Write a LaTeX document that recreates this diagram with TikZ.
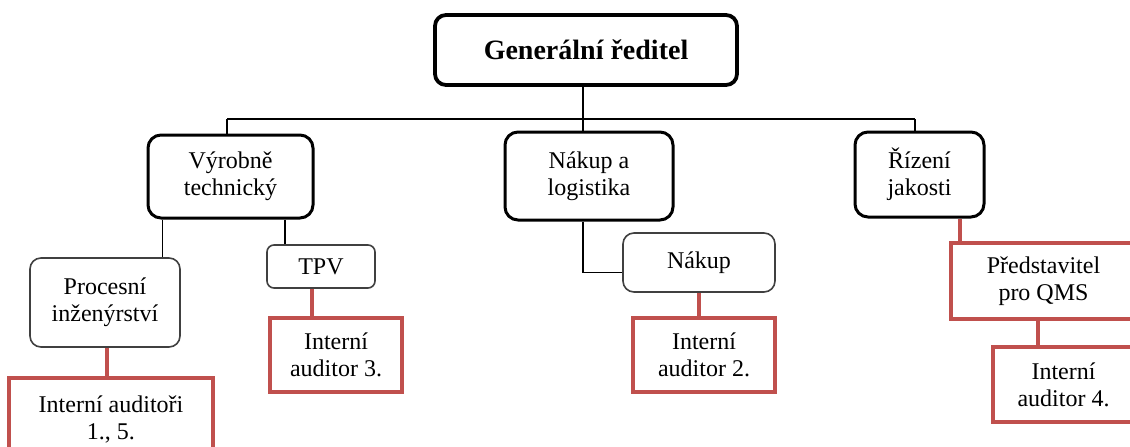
\documentclass[tikz,border=0pt]{standalone}
\usepackage{fontspec}
\setmainfont{Liberation Serif}
\definecolor{auditred}{HTML}{C0504D}
\definecolor{boxgray}{HTML}{404040}
\tikzset{
  txt/.style={align=center, inner sep=0pt, font=\rmfamily\fontsize{24}{27}\selectfont},
  topbox/.style={txt, draw=black, line width=3.8pt, rounded corners=11pt, fill=white,
                 font=\rmfamily\fontsize{28}{32}\selectfont\bfseries},
  deptbox/.style={txt, draw=black, line width=3pt, rounded corners=13pt, fill=white},
  unitbox/.style={txt, draw=boxgray, line width=1.6pt, rounded corners=11pt, fill=white},
  auditbox/.style={txt, draw=auditred, line width=3.2pt, fill=white},
  link/.style={draw=black, line width=1.5pt},
  auditlink/.style={draw=auditred, line width=3.2pt}
}
\begin{document}
\begin{tikzpicture}[x=1pt,y=-1pt]
\useasboundingbox (0,0) rectangle (1130,447);
\clip (0,0) rectangle (1130,447);
\fill[white] (0,0) rectangle (1130,447);

% bus line under the director
\coordinate (busL) at (227,119);
\coordinate (busR) at (915,119);
\coordinate (busM) at (583,119);

% nodes
\node[topbox, minimum width=302pt, minimum height=70pt] (gr) at (586,50) {Generální ředitel};

\node[deptbox, minimum width=165pt, minimum height=83pt] (vt) at (230.5,176.5) {Výrobně\\technický};
\node[deptbox, minimum width=168pt, minimum height=88pt] (nl) at (589,176) {Nákup a\\logistika};
\node[deptbox, minimum width=129pt, minimum height=85pt] (rj) at (919.5,174.5) {Řízení\\jakosti};

\node[unitbox, minimum width=150pt, minimum height=89pt] (pi) at (105,302.5) {Procesní\\inženýrství};
\node[unitbox, minimum width=108pt, minimum height=43pt, rounded corners=7pt] (tpv) at (321,266.5) {TPV};
\node[unitbox, minimum width=152pt, minimum height=59pt] (nak) at (699,262.5) {Nákup};

\node[auditbox, minimum width=204pt, minimum height=82pt] (ia15) at (111,419) {Interní auditoři\\1., 5.};
\node[auditbox, minimum width=132pt, minimum height=74pt] (ia3) at (336,355) {Interní\\auditor 3.};
\node[auditbox, minimum width=142pt, minimum height=74pt] (ia2) at (704,355) {Interní\\auditor 2.};
\node[auditbox, minimum width=185pt, minimum height=76pt] (qms) at (1043.5,281) {Představitel\\pro QMS};
\node[auditbox, minimum width=141pt, minimum height=75pt] (ia4) at (1063.5,384.5) {Interní\\auditor 4.};

% black connectors
\draw[link] ([xshift=-3pt]gr.south) -- (busM);
\draw[link] (busL) -- (busR);
\draw[link] (busL) -- (busL |- vt.north);
\draw[link] (busM) -- (busM |- nl.north);
\draw[link] (busR) -- (busR |- rj.north);
\draw[link] ([xshift=-68pt]vt.south) -- ([xshift=-68pt]vt.south |- pi.north);
\draw[link] ([xshift=54.5pt]vt.south) -- ([xshift=54.5pt]vt.south |- tpv.north);
\draw[link] ([xshift=-6pt]nl.south) |- ([yshift=-10pt]nak.west);

% red connectors
\draw[auditlink] ([xshift=2pt]pi.south) -- ([xshift=2pt]pi.south |- ia15.north);
\draw[auditlink] ([xshift=-9pt]tpv.south) -- ([xshift=-9pt]tpv.south |- ia3.north);
\draw[auditlink] (nak.south) -- (nak.south |- ia2.north);
\draw[auditlink] ([xshift=40.5pt]rj.south) -- ([xshift=40.5pt]rj.south |- qms.north);
\draw[auditlink] ([xshift=-5.5pt]qms.south) -- ([xshift=-5.5pt]qms.south |- ia4.north);
\end{tikzpicture}
\end{document}
